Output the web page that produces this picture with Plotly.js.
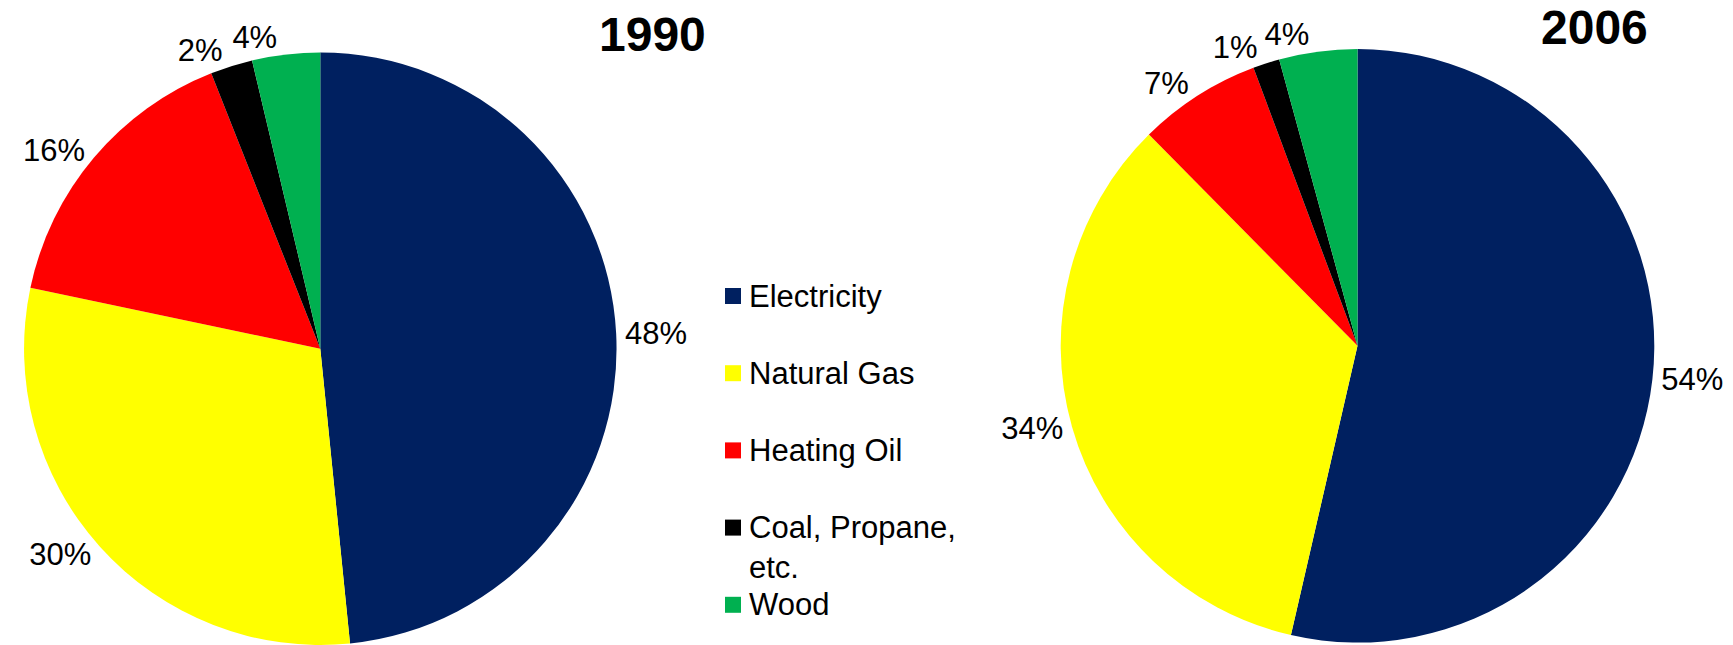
<!DOCTYPE html>
<html>
<head>
<meta charset="utf-8">
<script src="https://cdn.plot.ly/plotly-3.0.1.min.js"></script>
<style>
html, body { margin: 0; padding: 0; background: #ffffff; }
#chart { width: 1733px; height: 645px; }
</style>
</head>
<body>
<div id="chart"></div>
<script>
// ---- data ----
const categories = ["Electricity", "Natural Gas", "Heating Oil", "Coal, Propane, etc.", "Wood"];
const legendLabels = ["Electricity", "Natural Gas", "Heating Oil", "Coal, Propane,<br>etc.", "Wood"];
const values1990 = [48.4, 29.9, 15.7, 2.3, 3.7];
const values2006 = [53.6, 34.0, 6.7, 1.45, 4.25];
const years = ["1990", "2006"];
const colors = ["#002060", "#FFFF00", "#FF0000", "#000000", "#00B050"];

// ---- layout helpers ----
const W = 1733, H = 645;
const FONT = "Liberation Sans, Arial, sans-serif";
const px = x => x / W;
const py = y => 1 - y / H;

// Labels of the last slice are drawn by a transparent overlay copy of the pie,
// so that plotly does not push them away with a leader line.
const lastIdx = categories.length - 1;
const mainPos = categories.map((c, i) => (i === lastIdx ? "none" : "outside"));
const overlayPos = categories.map((c, i) => (i === lastIdx ? "outside" : "none"));

function pieTrace(vals, domain, overlay) {
  return {
    type: "pie",
    labels: categories,
    values: vals,
    domain: domain,
    sort: false,
    direction: "clockwise",
    rotation: 0,
    marker: {
      colors: overlay ? colors.map(() => "rgba(0,0,0,0)") : colors,
      line: { width: 0 }
    },
    textposition: overlay ? overlayPos : mainPos,
    texttemplate: "%{percent:.0%}",
    textfont: { family: FONT, size: 31, color: "#000000" },
    hoverinfo: overlay ? "skip" : "label+percent",
    showlegend: false
  };
}

const dom1990 = { x: [px(24), px(616.6)], y: [0, 592.5 / H] };
const dom2006 = { x: [px(1060.7), px(1654.3)], y: [2.4 / H, 596 / H] };

const data = [
  pieTrace(values1990, dom1990, false),
  pieTrace(values1990, dom1990, true),
  pieTrace(values2006, dom2006, false),
  pieTrace(values2006, dom2006, true)
];

const annotations = [];
const shapes = [];

// titles
const titlePos = [[652, 35], [1594, 28]];
years.forEach((yr, i) => {
  annotations.push({
    text: "<b>" + yr + "</b>", xref: "paper", yref: "paper",
    x: px(titlePos[i][0]), y: py(titlePos[i][1]),
    xanchor: "center", yanchor: "middle", showarrow: false,
    font: { family: FONT, size: 48, color: "#000000" }
  });
});

// legend (squares + text)
const legSquareX = 725, legSquareSize = 16, legTextX = 748, legFirst = 296, legStep = 77.2;
const legFont = 31, lineH = 31 * 1.3;
legendLabels.forEach((lab, i) => {
  const cy = legFirst + i * legStep;
  shapes.push({
    type: "rect", xref: "paper", yref: "paper",
    x0: px(legSquareX), x1: px(legSquareX + legSquareSize),
    y0: py(cy + legSquareSize / 2), y1: py(cy - legSquareSize / 2),
    fillcolor: colors[i], line: { width: 0 }
  });
  const nLines = lab.split("<br>").length;
  annotations.push({
    text: lab, xref: "paper", yref: "paper",
    x: px(legTextX), y: py(cy + (nLines - 1) * lineH / 2),
    xanchor: "left", yanchor: "middle", align: "left", showarrow: false,
    borderpad: 0,
    font: { family: FONT, size: legFont, color: "#000000" }
  });
});

const layout = {
  width: W, height: H,
  margin: { l: 0, r: 0, t: 0, b: 0, pad: 0 },
  paper_bgcolor: "#ffffff",
  plot_bgcolor: "#ffffff",
  showlegend: false,
  annotations: annotations,
  shapes: shapes,
  font: { family: FONT }
};

Plotly.newPlot("chart", data, layout, { displayModeBar: false, staticPlot: true });
</script>
</body>
</html>
